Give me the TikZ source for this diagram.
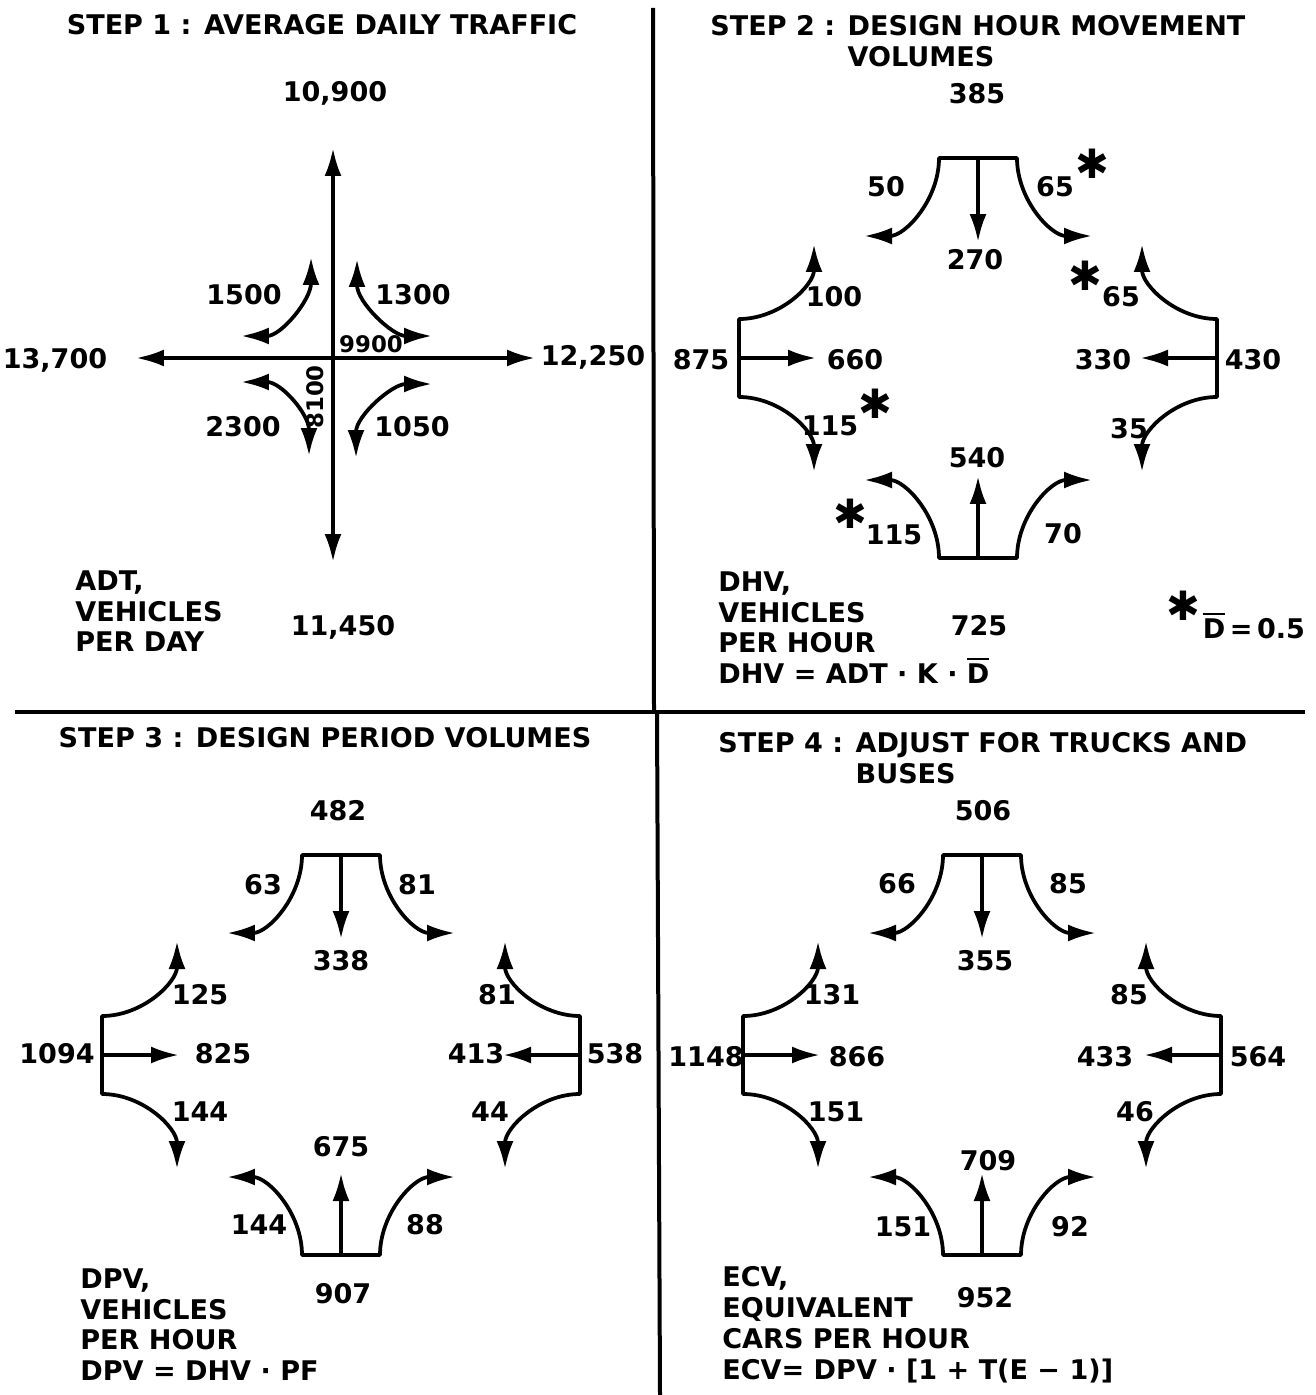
\documentclass[tikz,border=0pt]{standalone}
\usepackage{fontspec}
\setmainfont{DejaVu Sans}
\newfontfamily\starfont{DejaVu Sans}
\usetikzlibrary{arrows.meta}

\newcommand{\Dbar}{{\setbox0=\hbox{D}\rlap{\raisebox{\dimexpr\ht0+2.2pt\relax}{\rule{\wd0}{1.5pt}}}\box0}}

\tikzset{
	road/.style={line width=0.075cm, line join=round},
	flow/.style={road, -{Latex[length=0.56cm, width=0.34cm]}},
	twoway/.style={road, {Latex[length=0.56cm, width=0.34cm]}-{Latex[length=0.56cm, width=0.34cm]}},
	lbl/.style={font=\bfseries\fontsize{15.4}{17.6}\selectfont, inner sep=0pt},
	small/.style={font=\bfseries\fontsize{13}{15}\selectfont, inner sep=0pt},
	note/.style={lbl, align=left, anchor=north west},
	astk/.style={font=\starfont\bfseries\fontsize{23}{24}\selectfont, inner sep=0pt},
	divider/.style={line width=0.08cm},
	pics/crossing/.style={code={
		\coordinate (-tlt) at (-114,-122);
		\coordinate (-tw)  at (-39,-200);
		\coordinate (-tm)  at (0,-200);
		\coordinate (-te)  at (39,-200);
		\coordinate (-trt) at (114,-122);
		\coordinate (-ts)  at (0,-116);
		\coordinate (-lut) at (-164,-114);
		\coordinate (-ln)  at (-239,-39);
		\coordinate (-lm)  at (-239,0);
		\coordinate (-ls)  at (-239,39);
		\coordinate (-ldt) at (-164,114);
		\coordinate (-lt)  at (-162,0);
		\coordinate (-rut) at (164,-114);
		\coordinate (-rn)  at (239,-39);
		\coordinate (-rm)  at (239,0);
		\coordinate (-rs)  at (239,39);
		\coordinate (-rdt) at (164,114);
		\coordinate (-rt)  at (162,0);
		\coordinate (-blt) at (-114,122);
		\coordinate (-bw)  at (-39,200);
		\coordinate (-bm)  at (0,200);
		\coordinate (-be)  at (39,200);
		\coordinate (-brt) at (114,122);
		\coordinate (-bt)  at (0,118);
		\draw [twoway] (-tlt) .. controls (-73,-122) and (-39,-158) .. (-tw) -- (-te) .. controls (39,-158) and (73,-122) .. (-trt);
		\draw [flow] (-tm) -- (-ts);
		\draw [twoway] (-lut) .. controls (-164,-73) and (-198,-39) .. (-ln) -- (-ls) .. controls (-198,39) and (-164,73) .. (-ldt);
		\draw [flow] (-lm) -- (-lt);
		\draw [twoway] (-rut) .. controls (164,-73) and (198,-39) .. (-rn) -- (-rs) .. controls (198,39) and (164,73) .. (-rdt);
		\draw [flow] (-rm) -- (-rt);
		\draw [twoway] (-blt) .. controls (-73,122) and (-39,158) .. (-bw) -- (-be) .. controls (39,158) and (73,122) .. (-brt);
		\draw [flow] (-bm) -- (-bt);
	}}
}

\begin{document}
\begin{tikzpicture}[x=0.02cm, y=-0.02cm]
	\useasboundingbox (0,0) rectangle (1315,1395);
	\draw [divider] (653,8) -- (654,712);
	\draw [divider] (15,712) -- (1305,712);
	\draw [divider] (657,712) -- (660,1395);

	\node [lbl] (t1) at (322,25) {STEP 1 : AVERAGE DAILY TRAFFIC};
	\coordinate (p1n) at (333,148);
	\coordinate (p1s) at (333,562);
	\coordinate (p1w) at (136,358);
	\coordinate (p1e) at (535,358);
	\coordinate (p1nwa) at (311,257);
	\coordinate (p1nwb) at (241,336);
	\coordinate (p1nea) at (357,259);
	\coordinate (p1neb) at (432,336);
	\coordinate (p1swa) at (241,382);
	\coordinate (p1swb) at (309,456);
	\coordinate (p1sea) at (432,384);
	\coordinate (p1seb) at (356,458);
	\draw [twoway] (p1n) -- (p1s);
	\draw [twoway] (p1w) -- (p1e);
	\draw [twoway] (p1nwa) .. controls (311,300) and (281,336) .. (p1nwb);
	\draw [twoway] (p1nea) .. controls (357,302) and (392,336) .. (p1neb);
	\draw [twoway] (p1swa) .. controls (281,382) and (309,414) .. (p1swb);
	\draw [twoway] (p1sea) .. controls (392,384) and (356,416) .. (p1seb);
	\node [lbl] (n1) at (335,93) {10,900};
	\node [lbl] (w1) at (55,360) {13,700};
	\node [lbl] (e1) at (593,357) {12,250};
	\node [lbl] (s1) at (343,627) {11,450};
	\node [lbl] (nw1) at (244,295) {1500};
	\node [lbl] (ne1) at (413,295) {1300};
	\node [lbl] (sw1) at (243,427) {2300};
	\node [lbl] (se1) at (412,427) {1050};
	\node [small] (th1) at (371,344) {9900};
	\node [small, rotate=90] (th2) at (315,397) {8100};
	\node [note] (key1) at (75,570) {ADT,\\VEHICLES\\PER DAY};

	\node [note] (t2) at (710,15) {STEP 2 : DESIGN HOUR MOVEMENT\\\phantom{STEP 2 : }VOLUMES};
	\pic (p2) at (978,358) {crossing};
	\node [lbl] (n2) at (977,94) {385};
	\node [lbl] (n2l) at (886,187) {50};
	\node [lbl] (n2r) at (1055,187) {65};
	\node [astk] (a2n) at (1092,164) {✱};
	\node [lbl] (n2t) at (975,260) {270};
	\node [lbl] (w2l) at (834,297) {100};
	\node [astk] (a2e) at (1085,276) {✱};
	\node [lbl] (e2r) at (1121,297) {65};
	\node [lbl] (w2) at (701,360) {875};
	\node [lbl] (w2t) at (855,360) {660};
	\node [lbl] (e2t) at (1103,360) {330};
	\node [lbl] (e2) at (1253,360) {430};
	\node [lbl] (w2r) at (830,426) {115};
	\node [astk] (a2w) at (875,404) {✱};
	\node [lbl] (e2l) at (1129,429) {35};
	\node [lbl] (s2t) at (977,458) {540};
	\node [astk] (a2s) at (850,514) {✱};
	\node [lbl] (s2r) at (894,535) {115};
	\node [lbl] (s2l) at (1063,534) {70};
	\node [lbl] (s2) at (979,626) {725};
	\node [note] (key2) at (718,571) {DHV,\\VEHICLES\\PER HOUR\\DHV = ADT · K · \Dbar};
	\node [astk] (a2k) at (1183,606) {✱};
	\node [lbl] (dbar) at (1254,626) {\Dbar\,=\,0.5};

	\node [lbl] (t3) at (325,738) {STEP 3 : DESIGN PERIOD VOLUMES};
	\pic (p3) at (341,1055) {crossing};
	\node [lbl] (n3) at (338,811) {482};
	\node [lbl] (n3l) at (263,885) {63};
	\node [lbl] (n3r) at (417,885) {81};
	\node [lbl] (n3t) at (341,961) {338};
	\node [lbl] (w3l) at (200,995) {125};
	\node [lbl] (e3r) at (497,995) {81};
	\node [lbl] (w3) at (57,1054) {1094};
	\node [lbl] (w3t) at (223,1054) {825};
	\node [lbl] (e3t) at (476,1054) {413};
	\node [lbl] (e3) at (615,1054) {538};
	\node [lbl] (w3r) at (200,1112) {144};
	\node [lbl] (e3l) at (490,1112) {44};
	\node [lbl] (s3t) at (341,1147) {675};
	\node [lbl] (s3r) at (259,1225) {144};
	\node [lbl] (s3l) at (425,1225) {88};
	\node [lbl] (s3) at (343,1294) {907};
	\node [note] (key3) at (80,1268) {DPV,\\VEHICLES\\PER HOUR\\DPV = DHV · PF};

	\node [note] (t4) at (718,732) {STEP 4 : ADJUST FOR TRUCKS AND\\\phantom{STEP 4 : }BUSES};
	\pic (p4) at (982,1055) {crossing};
	\node [lbl] (n4) at (983,811) {506};
	\node [lbl] (n4l) at (897,884) {66};
	\node [lbl] (n4r) at (1068,884) {85};
	\node [lbl] (n4t) at (985,961) {355};
	\node [lbl] (w4l) at (832,995) {131};
	\node [lbl] (e4r) at (1129,995) {85};
	\node [lbl] (w4) at (706,1057) {1148};
	\node [lbl] (w4t) at (857,1057) {866};
	\node [lbl] (e4t) at (1105,1057) {433};
	\node [lbl] (e4) at (1258,1057) {564};
	\node [lbl] (w4r) at (836,1112) {151};
	\node [lbl] (e4l) at (1135,1112) {46};
	\node [lbl] (s4t) at (988,1161) {709};
	\node [lbl] (s4r) at (903,1227) {151};
	\node [lbl] (s4l) at (1070,1227) {92};
	\node [lbl] (s4) at (985,1298) {952};
	\node [note] (key4) at (722,1266) {ECV,\\EQUIVALENT\\CARS PER HOUR\\ECV= DPV · [1 + T(E − 1)]};
\end{tikzpicture}
\end{document}
